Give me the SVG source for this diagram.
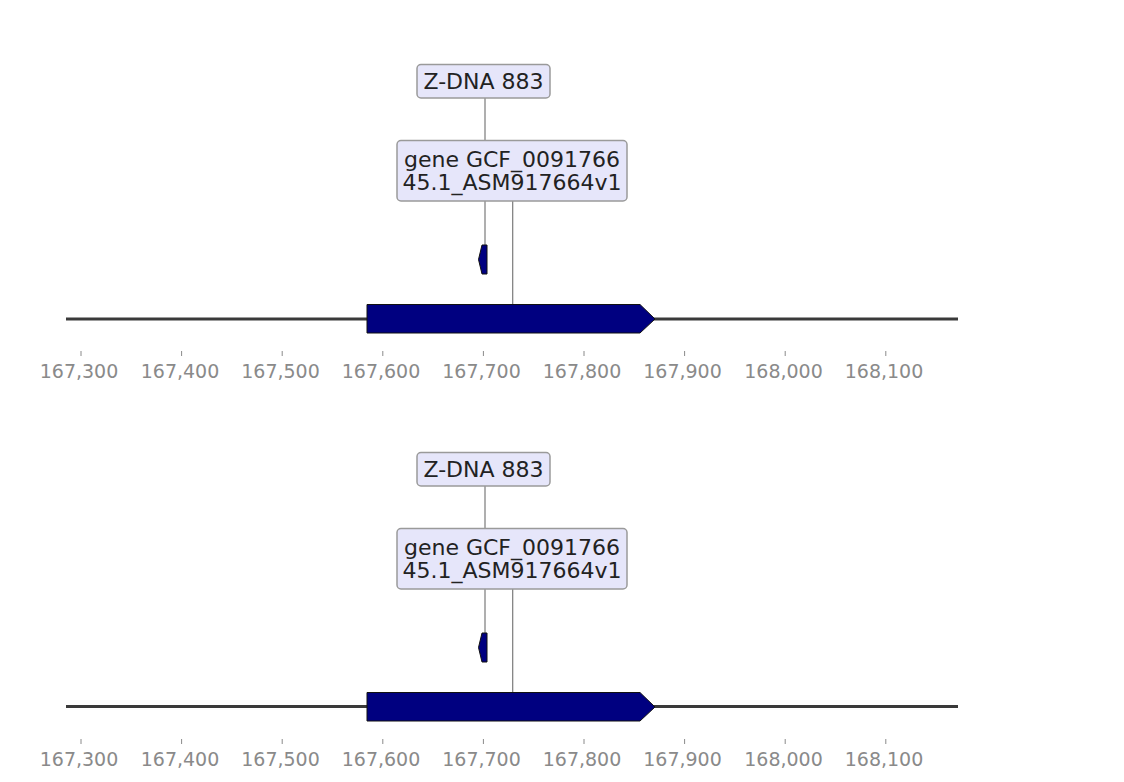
<svg xmlns="http://www.w3.org/2000/svg" width="1124" height="782" viewBox="0 0 1124 782">
  <style>
    .lbl { fill: #e6e6fa; stroke: #9a9a9a; stroke-width: 1.5; }
    .lt { font-family: "DejaVu Sans", sans-serif; font-size: 22px; fill: #222222; text-anchor: middle; }
    .tick { font-family: "DejaVu Sans", sans-serif; font-size: 19px; fill: #8a8a8a; text-anchor: middle; }
    .tm { stroke: #8a8a8a; stroke-width: 1; }
    .conn { stroke: #7a7a7a; stroke-width: 1.2; fill: none; }
    .feat { fill: #000080; stroke: #111111; stroke-width: 1; }
    .axis { stroke: #3a3a3a; stroke-width: 2.8; }
  </style>
  <defs>
    <g id="ticks">
      <line class="tm" x1="81" y1="351" x2="81" y2="356"/>
      <line class="tm" x1="181.6" y1="351" x2="181.6" y2="356"/>
      <line class="tm" x1="282.2" y1="351" x2="282.2" y2="356"/>
      <line class="tm" x1="382.8" y1="351" x2="382.8" y2="356"/>
      <line class="tm" x1="483.4" y1="351" x2="483.4" y2="356"/>
      <line class="tm" x1="584" y1="351" x2="584" y2="356"/>
      <line class="tm" x1="684.6" y1="351" x2="684.6" y2="356"/>
      <line class="tm" x1="785.2" y1="351" x2="785.2" y2="356"/>
      <line class="tm" x1="885.8" y1="351" x2="885.8" y2="356"/>
      <text class="tick" x="79" y="378">167,300</text>
      <text class="tick" x="180" y="378">167,400</text>
      <text class="tick" x="280.5" y="378">167,500</text>
      <text class="tick" x="381" y="378">167,600</text>
      <text class="tick" x="481.5" y="378">167,700</text>
      <text class="tick" x="582" y="378">167,800</text>
      <text class="tick" x="682.5" y="378">167,900</text>
      <text class="tick" x="783.5" y="378">168,000</text>
      <text class="tick" x="884" y="378">168,100</text>
    </g>
  </defs>

  <!-- Panel 1 -->
  <g id="panel1">
    <line class="axis" x1="66" y1="319" x2="958" y2="319"/>
    <g id="axis1"><use href="#ticks"/></g>
    <g id="connectors1">
      <line class="conn" x1="485" y1="98" x2="485" y2="140"/>
      <line class="conn" x1="485" y1="201" x2="485" y2="246"/>
      <line class="conn" x1="512.7" y1="201" x2="512.7" y2="304"/>
    </g>
    <g id="feature-gene1">
      <polygon class="feat" points="367,304.5 640,304.5 655,319 640,333 367,333"/>
    </g>
    <g id="feature-zdna1">
      <polygon class="feat" points="487,245 482,245 478.5,259.5 482,274 487,274"/>
    </g>
    <g id="label-zdna1">
      <rect class="lbl" x="417" y="64.5" width="133" height="33.5" rx="4"/>
      <text class="lt" x="483.5" y="89">Z-DNA 883</text>
    </g>
    <g id="label-gene1">
      <rect class="lbl" x="397" y="140.5" width="230" height="60.5" rx="4"/>
      <text class="lt" x="512" y="167">gene GCF_0091766</text>
      <text class="lt" x="512" y="190">45.1_ASM917664v1</text>
    </g>
  </g>

  <!-- Panel 2 -->
  <g id="panel2" transform="translate(0,388)">
    <line class="axis" x1="66" y1="318.5" x2="958" y2="318.5"/>
    <g id="axis2"><use href="#ticks"/></g>
    <g id="connectors2">
      <line class="conn" x1="485" y1="98" x2="485" y2="140"/>
      <line class="conn" x1="485" y1="201" x2="485" y2="246"/>
      <line class="conn" x1="512.7" y1="201" x2="512.7" y2="304"/>
    </g>
    <g id="feature-gene2">
      <polygon class="feat" points="367,304.5 640,304.5 655,319 640,333 367,333"/>
    </g>
    <g id="feature-zdna2">
      <polygon class="feat" points="487,245 482,245 478.5,259.5 482,274 487,274"/>
    </g>
    <g id="label-zdna2">
      <rect class="lbl" x="417" y="64.5" width="133" height="33.5" rx="4"/>
      <text class="lt" x="483.5" y="89">Z-DNA 883</text>
    </g>
    <g id="label-gene2">
      <rect class="lbl" x="397" y="140.5" width="230" height="60.5" rx="4"/>
      <text class="lt" x="512" y="167">gene GCF_0091766</text>
      <text class="lt" x="512" y="190">45.1_ASM917664v1</text>
    </g>
  </g>
</svg>
